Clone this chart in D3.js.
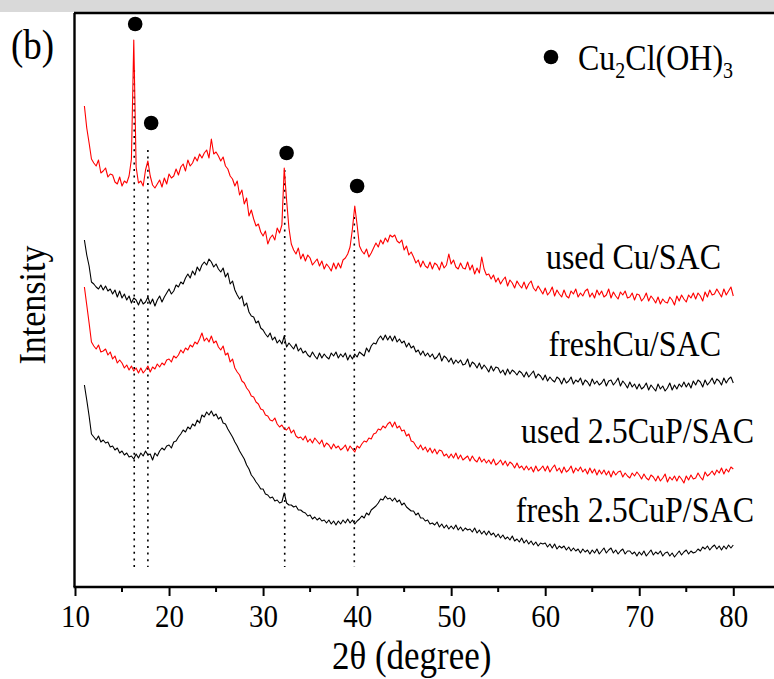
<!DOCTYPE html>
<html>
<head>
<meta charset="utf-8">
<script src="https://cdn.jsdelivr.net/npm/d3@7"></script>
<style>
  html, body { margin: 0; padding: 0; background: #fff; }
  #vis { width: 774px; height: 679px; overflow: hidden; }
  text { font-family: "Liberation Serif", "Times New Roman", serif; fill: #000; }
</style>
</head>
<body>
<div id="vis"></div>
<script>
// 2-theta grid of the scans (degree)
const thetaStart = 11;
const thetaStep = 0.25;

// intensities (a.u., stacked as in the figure), one value per grid step 11 .. 80
const usedCu = [
  481,459,444,428, 424,421,427,414, 416,419,410,413, 412,405,403,410, 401,406,404,411,
  428,547,420,404, 406,401,417,426, 411,402,399,403, 407,400,409,403, 413,409,411,418,
  412,420,423,416, 427,421,424,430, 426,433,429,434, 437,429,448,433, 435,431,426,430,
  421,418,411,408, 401,406,392,397, 383,389,371,377, 368,361,363,355, 351,356,343,349,
  352,347,359,354, 362,419,387,359, 343,337,333,339, 328,333,326,332, 329,322,325,328,
  321,326,318,323, 320,316,324,318, 324,319,327,329, 333,340,358,381, 362,341,336,333,
  338,330,334,339, 344,340,347,343, 349,345,352,350, 352,346,344,347, 337,341,332,335,
  330,324,327,320, 326,321,319,325, 318,324,322,317, 325,319,322,333, 323,327,320,318,
  324,319,318,325, 317,322,313,319, 314,330,318,312, 313,308,312,305, 309,303,307,310,
  301,307,304,299, 306,302,299,305, 298,303,306,299, 296,301,297,293, 299,292,295,300,
  291,297,293,290, 297,291,289,296, 293,298,290,294, 291,296,298,290, 294,289,297,292,
  296,290,292,298, 289,295,291,288, 295,292,296,289, 290,294,287,293, 292,286,289,294,
  286,291,288,284, 290,283,288,285, 284,290,287,282, 291,286,292,288, 285,292,289,294,
  288,294,291,286, 295,290,297,292, 293,298,294,290, 298,292,296,300, 291
];
const freshCu = [
  347,332,321,305, 303,300,298,302, 297,301,296,298, 293,297,290,296, 289,293,287,291,
  284,289,287,282, 288,283,285,290, 283,288,281,287, 291,285,290,294, 298,293,296,302,
  300,305,303,309, 313,309,316,312, 320,316,322,325, 322,328,325,320, 323,318,315,319,
  310,314,303,306, 297,292,288,291, 281,284,275,271, 270,264,266,259, 257,253,250,254,
  247,250,244,247, 243,251,240,244, 241,238,243,236, 239,234,236,232, 230,235,231,228,
  234,229,233,230, 228,234,231,235, 229,233,230,234, 227,232,228,233, 230,235,233,231,
  239,235,241,244, 243,248,251,247, 252,247,251,246, 251,245,248,244, 246,240,244,239,
  241,235,237,232, 236,231,234,230, 233,228,230,234, 226,231,229,225, 229,223,227,224,
  227,222,223,228, 220,225,223,219, 224,218,222,219, 215,221,216,220, 219,214,217,212,
  218,213,217,215, 212,216,214,210, 215,210,213,216, 209,213,211,207, 212,206,210,207,
  205,210,208,203, 209,204,206,210, 203,207,205,209, 202,207,205,201, 208,203,206,202,
  204,208,201,206, 207,202,205,209, 201,206,203,199, 205,200,203,198, 203,198,200,204,
  197,202,199,196, 203,198,201,196, 199,204,197,202, 198,203,200,205, 200,204,199,206,
  202,207,205,200, 207,202,205,209, 203,208,206,202, 209,204,208,210, 204
];
const usedCuP = [
  300,282,264,245, 241,238,242,235, 236,238,232,235, 228,231,224,227, 224,219,222,217,
  221,216,219,214, 219,214,217,221, 215,220,218,223, 220,224,222,227, 228,225,231,229,
  232,237,234,239, 237,242,240,245, 243,248,254,246, 249,245,251,244, 246,240,237,241,
  232,234,225,228, 219,215,212,206, 204,199,196,191, 190,185,183,178, 177,172,171,167,
  166,169,163,160, 162,158,157,160, 154,157,151,149, 150,147,151,145, 148,144,149,146,
  143,147,140,144, 142,138,143,139, 141,137,139,142, 136,141,138,135, 141,139,143,146,
  145,149,148,153, 154,158,157,161, 159,163,165,160, 165,159,161,156, 157,151,153,146,
  145,141,138,142, 137,140,135,139, 134,138,133,137, 136,131,133,129, 133,129,134,128,
  132,127,129,131, 126,131,127,125, 130,125,128,124, 127,123,128,122, 124,127,122,126,
  121,125,123,119, 124,119,121,117, 121,117,120,115, 121,116,118,121, 116,121,115,119,
  122,116,119,114, 120,115,117,121, 114,119,116,120, 115,118,113,119, 114,118,112,117,
  113,117,112,116, 110,116,112,115, 116,110,114,111, 109,114,111,115, 112,108,113,109,
  107,112,110,106, 111,106,109,113, 105,110,107,111, 106,111,108,104, 111,107,112,108,
  109,114,110,107, 115,111,113,116, 112,117,114,119, 113,118,115,120, 118
];
const freshCuP = [
  202,187,171,153, 150,147,151,145, 147,144,145,140, 141,137,139,134, 136,132,134,130,
  131,128,133,129, 134,131,136,132, 133,127,134,131, 136,139,137,141, 142,139,145,146,
  150,153,157,155, 160,158,163,161, 167,164,172,170, 175,172,176,171, 173,168,170,164,
  163,158,154,150, 145,141,136,132, 128,122,118,112, 109,105,102,98, 98,93,92,89,
  90,86,87,84, 85,94,84,82, 82,80,81,77, 77,75,74,71, 72,68,70,67,
  69,66,67,64, 67,63,66,62, 66,63,67,64, 68,64,67,63, 66,68,71,69,
  74,72,77,79, 81,84,88,87, 91,88,89,86, 89,85,87,82, 84,80,78,76,
  76,72,74,69, 69,66,67,63, 64,62,65,60, 63,59,62,58, 61,58,62,57,
  60,56,59,57, 58,55,59,54, 57,53,56,52, 56,52,54,50, 53,49,52,48,
  50,47,51,46, 48,45,49,44, 47,43,46,42, 45,41,44,43, 44,40,43,39,
  43,38,41,39, 41,37,40,36, 39,36,38,34, 38,35,37,33, 37,34,38,33,
  36,39,34,37, 39,34,37,33, 36,38,33,36, 36,33,35,31, 35,32,36,31,
  34,37,32,35, 33,36,31,34, 35,31,34,30, 33,36,32,35, 37,33,36,34,
  35,38,36,40, 38,41,37,40, 42,38,41,37, 41,38,42,39, 42
];

const seriesNames = ['used Cu/SAC', 'freshCu/SAC', 'used 2.5CuP/SAC', 'fresh 2.5CuP/SAC'];
const seriesColors = ['#ff0000', '#000000', '#ff0000', '#000000'];

// Cu2Cl(OH)3 reflections: marker position and dotted guide
const markTheta = [16.4, 18.1, 32.5, 40.0];
const markIntensity = [563, 464, 434, 401];
const guideTheta = [16.3, 17.75, 32.3, 39.7];
const guideTop = [517, 437, 417, 370];
const guideBottom = 20;

const xTicks = [10, 20, 30, 40, 50, 60, 70, 80];
const xMinorTicks = [15, 25, 35, 45, 55, 65, 75];

const width = 774;
const height = 679;
const margin = { top: 13, left: 75, bottom: 92 };
const stretch = 1.12;   // the original type is a little taller than it is wide

const svg = d3.select('#vis')
  .append('svg')
    .attr('width', width)
    .attr('height', height);

function label(parent, x, y, size, str, anchor, rot) {
  return parent.append('text')
    .attr('transform', 'translate(' + x + ',' + y + ')' + (rot ? ' rotate(' + rot + ')' : '') + ' scale(1,' + stretch + ')')
    .attr('text-anchor', anchor || 'start')
    .attr('font-size', size)
    .text(str);
}

// grey strip above the frame
svg.append('rect')
  .attr('x', 0).attr('y', 0)
  .attr('width', width).attr('height', 12)
  .attr('fill', '#d9d9d9');

const x = d3.scaleLinear()
  .domain([10, 85])
  .range([margin.left, margin.left + 75 * 9.404]);

const y = d3.scaleLinear()
  .domain([0, 574])
  .range([height - margin.bottom, margin.top]);

const theta = usedCu.map((d, i) => thetaStart + i * thetaStep);
const series = [usedCu, freshCu, usedCuP, freshCuP];

// dotted guides
svg.selectAll('.guide')
  .data(guideTheta)
  .enter().append('line')
    .attr('class', 'guide')
    .attr('x1', d => x(d)).attr('x2', d => x(d))
    .attr('y1', (d, i) => y(guideTop[i]))
    .attr('y2', y(guideBottom))
    .attr('stroke', '#000')
    .attr('stroke-width', 1.6)
    .attr('stroke-dasharray', '2,4.6');

const line = d3.line()
  .x((d, i) => x(theta[i]))
  .y(d => y(d));

svg.selectAll('.scan')
  .data(series)
  .enter().append('path')
    .attr('class', 'scan')
    .attr('d', d => line(d))
    .attr('fill', 'none')
    .attr('stroke', (d, i) => seriesColors[i])
    .attr('stroke-width', 1.1)
    .attr('stroke-linejoin', 'round');

// peak markers
svg.selectAll('.mark')
  .data(markTheta)
  .enter().append('circle')
    .attr('class', 'mark')
    .attr('cx', d => x(d))
    .attr('cy', (d, i) => y(markIntensity[i]))
    .attr('r', 7.3)
    .attr('fill', '#000');

// frame: top, left, bottom axis
svg.append('line')
  .attr('x1', margin.left - 1).attr('x2', width)
  .attr('y1', margin.top).attr('y2', margin.top)
  .attr('stroke', '#000').attr('stroke-width', 2.4);

svg.append('line')
  .attr('x1', margin.left - 0.5).attr('x2', margin.left - 0.5)
  .attr('y1', margin.top).attr('y2', height - margin.bottom)
  .attr('stroke', '#000').attr('stroke-width', 2.4);

const xAxis = d3.axisBottom(x)
  .tickValues(xTicks)
  .tickSize(9)
  .tickFormat(d3.format('d'));

const gx = svg.append('g')
  .attr('transform', 'translate(0,' + (height - margin.bottom) + ')')
  .call(xAxis);

gx.select('.domain')
  .attr('d', 'M' + (margin.left - 1.5) + ',0H' + width)
  .attr('stroke-width', 2.4);
gx.selectAll('.tick line').attr('stroke-width', 2);
gx.selectAll('.tick text')
  .attr('font-family', '"Liberation Serif", "Times New Roman", serif')
  .attr('font-size', 29)
  .attr('y', 0)
  .attr('dy', 0)
  .attr('transform', 'translate(0,40) scale(1,' + stretch + ')');

gx.selectAll('.minor')
  .data(xMinorTicks)
  .enter().append('line')
    .attr('class', 'minor')
    .attr('x1', d => x(d)).attr('x2', d => x(d))
    .attr('y1', 0).attr('y2', 5)
    .attr('stroke', '#000')
    .attr('stroke-width', 2);

// axis titles and panel tag
label(svg, x(45.8), 669, 35, '2\u03b8 (degree)', 'middle');
label(svg, 45, 305, 34, 'Intensity', 'middle', -90);
label(svg, 11, 59, 37, '(b)');

// legend
svg.append('circle')
  .attr('cx', 551).attr('cy', 57)
  .attr('r', 7.3)
  .attr('fill', '#000');

const leg = label(svg, 578, 70, 32, '');
leg.append('tspan').text('Cu');
leg.append('tspan').attr('font-size', 20).attr('dy', 7).text('2');
leg.append('tspan').attr('dy', -7).text('Cl(OH)');
leg.append('tspan').attr('font-size', 20).attr('dy', 7).text('3');

// series labels
const labelPos = [[721, 269], [721, 356], [754, 443], [754, 522]];
seriesNames.forEach((name, i) => {
  label(svg, labelPos[i][0], labelPos[i][1], 32, name, 'end');
});
</script>
</body>
</html>
